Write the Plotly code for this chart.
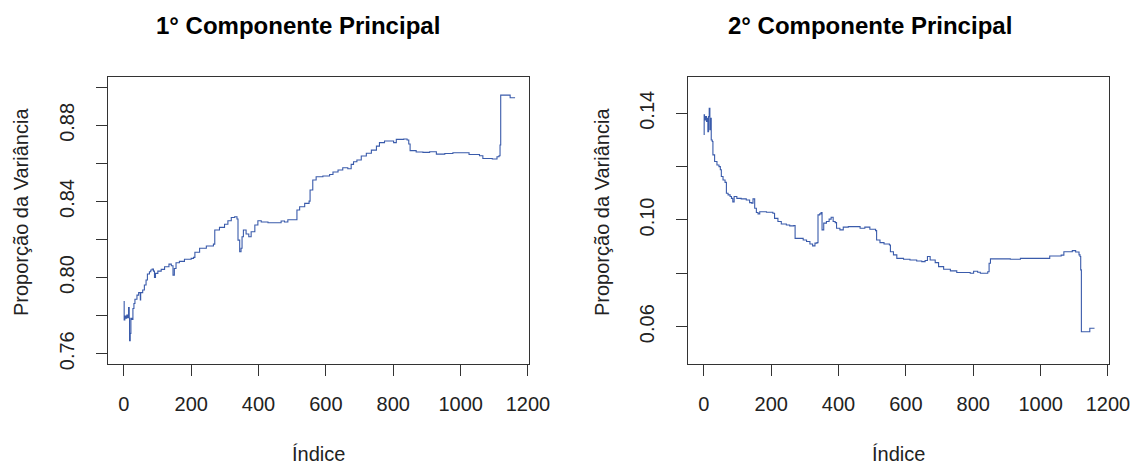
import plotly.graph_objects as go

# ---- data ----
pc1_index = [1, 1, 3, 6, 9, 12, 14, 16, 17, 19, 21, 24, 27, 30, 33, 39, 44, 49, 50, 56,
             61, 66, 70, 76, 80, 84, 88, 91, 94, 101, 111, 121, 134, 141, 146, 150, 155, 165, 180, 200,
             207, 211, 225, 245, 266, 270, 284, 299, 309, 319, 329, 336, 339, 344, 348, 351, 355, 363, 371, 378,
             385, 389, 398, 408, 428, 452, 467, 477, 487, 507, 514, 522, 537, 550, 553, 561, 571, 591, 611, 621,
             636, 650, 665, 675, 682, 692, 705, 720, 735, 750, 759, 774, 791, 801, 809, 831, 841, 846, 850, 868,
             888, 908, 928, 953, 977, 1012, 1025, 1056, 1066, 1094, 1108, 1114, 1117, 1119, 1143, 1147, 1160]
pc1_value = [0.7877, 0.7777, 0.7798, 0.7786, 0.7803, 0.7791, 0.7842, 0.7786, 0.7668, 0.7707,
             0.7786, 0.7780, 0.7838, 0.7864, 0.7886, 0.7908, 0.7921, 0.7882, 0.7921, 0.7935,
             0.7961, 0.7987, 0.8019, 0.8031, 0.8040, 0.8045, 0.8034, 0.8001, 0.8022, 0.8034,
             0.8043, 0.8057, 0.8071, 0.8062, 0.8013, 0.8048, 0.8078, 0.8085, 0.8096, 0.8101,
             0.8106, 0.8133, 0.8154, 0.8166, 0.8176, 0.8250, 0.8264, 0.8280, 0.8299, 0.8316,
             0.8320, 0.8308, 0.8197, 0.8136, 0.8154, 0.8215, 0.8250, 0.8229, 0.8215, 0.8241,
             0.8241, 0.8276, 0.8299, 0.8292, 0.8288, 0.8288, 0.8297, 0.8292, 0.8304, 0.8304,
             0.8355, 0.8372, 0.8390, 0.8402, 0.8460, 0.8513, 0.8530, 0.8534, 0.8542, 0.8555,
             0.8565, 0.8577, 0.8572, 0.8595, 0.8609, 0.8618, 0.8639, 0.8653, 0.8670, 0.8691,
             0.8709, 0.8718, 0.8718, 0.8709, 0.8726, 0.8728, 0.8723, 0.8702, 0.8667, 0.8660,
             0.8658, 0.8661, 0.8649, 0.8652, 0.8656, 0.8656, 0.8647, 0.8640, 0.8626, 0.8623,
             0.8635, 0.8640, 0.8697, 0.8959, 0.8959, 0.8945, 0.8942]

pc2_index = [1, 1, 2, 5, 8, 11, 12, 14, 16, 18, 20, 22, 25, 27, 32, 39, 45, 49, 52, 57,
             63, 67, 72, 78, 82, 86, 90, 98, 111, 126, 136, 142, 146, 151, 156, 161, 166, 186, 205, 210,
             220, 230, 245, 255, 267, 271, 285, 295, 305, 315, 323, 330, 336, 339, 344, 348, 351, 356, 364, 372,
             378, 384, 390, 394, 404, 414, 429, 449, 464, 478, 493, 510, 513, 523, 535, 551, 554, 563, 573, 593,
             612, 632, 647, 657, 664, 672, 687, 697, 712, 732, 751, 791, 801, 813, 821, 843, 847, 851, 910, 940,
             1019, 1027, 1061, 1069, 1094, 1104, 1114, 1117, 1119, 1121, 1143, 1146, 1160]
pc2_value = [0.1319, 0.1394, 0.1375, 0.1388, 0.1369, 0.1381, 0.1331, 0.1388, 0.1419, 0.1338,
             0.1381, 0.1300, 0.1294, 0.1244, 0.1219, 0.1206, 0.1200, 0.1188, 0.1163, 0.1150,
             0.1141, 0.1100, 0.1094, 0.1088, 0.1081, 0.1068, 0.1088, 0.1081, 0.1079, 0.1075,
             0.1065, 0.1063, 0.1079, 0.1044, 0.1028, 0.1023, 0.1031, 0.1029, 0.1025, 0.1006,
             0.0994, 0.0985, 0.0981, 0.0978, 0.0979, 0.0931, 0.0931, 0.0925, 0.0919, 0.0910,
             0.0903, 0.0913, 0.0915, 0.1019, 0.1023, 0.1028, 0.0963, 0.0988, 0.0994, 0.1003,
             0.1010, 0.0994, 0.0990, 0.0969, 0.0963, 0.0973, 0.0975, 0.0975, 0.0969, 0.0973,
             0.0965, 0.0960, 0.0925, 0.0915, 0.0910, 0.0906, 0.0881, 0.0869, 0.0856, 0.0853,
             0.0850, 0.0846, 0.0844, 0.0848, 0.0863, 0.0850, 0.0840, 0.0825, 0.0815, 0.0809,
             0.0803, 0.0800, 0.0808, 0.0804, 0.0800, 0.0806, 0.0838, 0.0854, 0.0853, 0.0856,
             0.0856, 0.0865, 0.0868, 0.0881, 0.0885, 0.0880, 0.0869, 0.0863, 0.0813, 0.0581,
             0.0581, 0.0594, 0.0594]

x_tickvals = [0, 200, 400, 600, 800, 1000, 1200]
x_ticktext = ["0", "200", "400", "600", "800", "1000", "1200"]
pc1_tickvals = [0.76, 0.78, 0.80, 0.82, 0.84, 0.86, 0.88, 0.90]
pc1_ticktext = ["0.76", "", "0.80", "", "0.84", "", "0.88", ""]
pc2_tickvals = [0.06, 0.08, 0.10, 0.12, 0.14]
pc2_ticktext = ["0.06", "", "0.10", "", "0.14"]

titles = ["1° Componente Principal", "2° Componente Principal"]
x_title = "Índice"
y_title = "Proporção da Variância"

# ---- layout ----
W, H = 1131, 464
FONT = "Liberation Sans, Arial, sans-serif"
LINE = "#3A5BAB"


def px(x):
    return x / W


def py(y):
    return 1 - y / H


fig = go.Figure()
fig.add_trace(go.Scatter(x=pc1_index, y=pc1_value, mode="lines",
                         line=dict(color=LINE, width=1.1, shape="hv"), xaxis="x", yaxis="y",
                         showlegend=False, hoverinfo="x+y"))
fig.add_trace(go.Scatter(x=pc2_index, y=pc2_value, mode="lines",
                         line=dict(color=LINE, width=1.1, shape="hv"), xaxis="x2", yaxis="y2",
                         showlegend=False, hoverinfo="x+y"))

common_ax = dict(showline=True, mirror=True, linecolor="#333333", linewidth=1,
                 showgrid=False, zeroline=False, ticks="outside", ticklen=11,
                 tickcolor="#333333", tickwidth=1, automargin=False,
                 tickfont=dict(family=FONT, size=20, color="#222222"))

ydom = [py(364), py(77)]
fig.update_layout(
    template="none",
    width=W, height=H, autosize=False,
    margin=dict(l=0, r=0, t=0, b=0, pad=0),
    paper_bgcolor="white", plot_bgcolor="white",
    font=dict(family=FONT, color="#222222"),
    xaxis=dict(domain=[px(108), px(529)], range=[-47, 1203], anchor="y",
               tickvals=x_tickvals, ticktext=x_ticktext, ticklabelstandoff=11, **common_ax),
    yaxis=dict(domain=ydom, range=[0.7546, 0.9054], anchor="x",
               tickvals=pc1_tickvals, ticktext=pc1_ticktext, tickangle=-90,
               ticklabelstandoff=14, **common_ax),
    xaxis2=dict(domain=[px(688), px(1109)], range=[-47, 1203], anchor="y2",
                tickvals=x_tickvals, ticktext=x_ticktext, ticklabelstandoff=11, **common_ax),
    yaxis2=dict(domain=ydom, range=[0.046, 0.1536], anchor="x2",
                tickvals=pc2_tickvals, ticktext=pc2_ticktext, tickangle=-90,
                ticklabelstandoff=14, **common_ax),
)

ann = []
for cx, t in [(298, titles[0]), (870, titles[1])]:
    ann.append(dict(text=f"<b>{t}</b>", x=px(cx), y=py(26), xref="paper", yref="paper",
                    xanchor="center", yanchor="middle", showarrow=False,
                    font=dict(family=FONT, size=24, color="#000000")))
for cx in (318, 898):
    ann.append(dict(text=x_title, x=px(cx), y=py(454), xref="paper", yref="paper",
                    xanchor="center", yanchor="middle", showarrow=False,
                    font=dict(family=FONT, size=20, color="#222222")))
for cx in (21, 602):
    ann.append(dict(text=y_title, x=px(cx), y=py(212), xref="paper", yref="paper",
                    xanchor="center", yanchor="middle", showarrow=False, textangle=-90,
                    font=dict(family=FONT, size=20, color="#222222")))
fig.update_layout(annotations=ann)

fig.write_html(
    "out.html",
    config={"displayModeBar": False, "responsive": False},
    post_script="document.body.style.margin='0px';document.body.style.overflow='hidden';",
)
